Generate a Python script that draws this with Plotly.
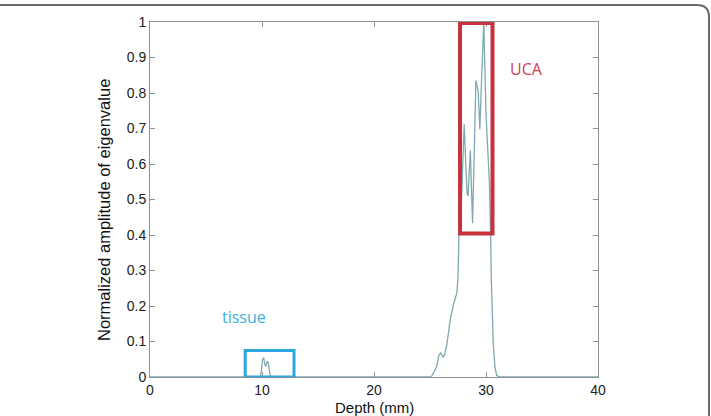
import plotly.graph_objects as go

# Data
depth_mm = [0, 9.85, 9.95, 10.05, 10.15, 10.25, 10.35, 10.45, 10.55, 10.65, 10.75,
            25.1, 25.3, 25.6, 25.8, 25.95, 26.1, 26.2, 26.35, 26.5, 26.8, 27.1, 27.4,
            27.5, 27.6, 27.75, 28.05, 28.3, 28.4, 28.6, 28.8, 29.1, 29.3, 29.45, 29.6,
            29.75, 29.8, 30.0, 30.2, 30.3, 30.42, 30.47, 30.65, 30.8, 30.95, 31.2, 40]
amplitude = [0, 0, 0.02, 0.05, 0.055, 0.035, 0.03, 0.045, 0.04, 0.01, 0,
             0, 0.01, 0.03, 0.062, 0.068, 0.06, 0.055, 0.07, 0.09, 0.16, 0.205, 0.237,
             0.28, 0.42, 0.44, 0.712, 0.52, 0.51, 0.638, 0.433, 0.835, 0.805, 0.698, 0.833,
             0.99, 1.0, 0.74, 0.58, 0.55, 0.40, 0.28, 0.093, 0.028, 0.005, 0, 0]

x_ticks = [0, 10, 20, 30, 40]
y_ticks = [0, 0.1, 0.2, 0.3, 0.4, 0.5, 0.6, 0.7, 0.8, 0.9, 1]
y_tick_text = ["0", "0.1", "0.2", "0.3", "0.4", "0.5", "0.6", "0.7", "0.8", "0.9", "1"]

uca_box = [27.68, 30.58, 0.404, 0.997]
tissue_box = [8.5, 12.86, 0.0, 0.075]

# plot area geometry (pixels)
L, R, T, B = 150, 598, 22, 377
W, H = R - L, B - T


def px(x):
    return (x - L) / W


def py(y):
    return (B - y) / H


fig = go.Figure()
fig.add_trace(go.Scatter(x=depth_mm, y=amplitude, mode="lines",
                         line=dict(color="#80a9b0", width=1.3), showlegend=False))

axis_color = "#8a9494"
fig.update_xaxes(range=[0, 40], tickvals=x_ticks, ticks="inside", ticklen=5,
                 tickcolor=axis_color, showline=True, linecolor=axis_color, linewidth=1,
                 mirror="allticks", showgrid=False, zeroline=False,
                 tickfont=dict(family="Liberation Sans, Arial", size=14, color="#222"))
fig.update_yaxes(range=[0, 1], tickvals=y_ticks, ticktext=y_tick_text, ticks="inside",
                 ticklen=5, tickcolor=axis_color, showline=True, linecolor=axis_color,
                 linewidth=1, mirror="allticks", showgrid=False, zeroline=False,
                 tickfont=dict(family="Liberation Sans, Arial", size=14, color="#222"))

fig.add_shape(type="rect", xref="x", yref="y", x0=uca_box[0], x1=uca_box[1],
              y0=uca_box[2], y1=uca_box[3], line=dict(color="#c8323c", width=4))
fig.add_shape(type="rect", xref="x", yref="y", x0=tissue_box[0], x1=tissue_box[1],
              y0=tissue_box[2], y1=tissue_box[3], line=dict(color="#2ba6de", width=3))

# outer rounded frame (paper coords)
fig.add_shape(type="path", xref="paper", yref="paper",
              path=(f"M {px(-200):.4f} {py(5):.4f} L {px(697):.4f} {py(5):.4f} "
                    f"Q {px(709):.4f} {py(5):.4f} {px(709):.4f} {py(17):.4f} "
                    f"L {px(709):.4f} {py(500):.4f}"),
              line=dict(color="#6a6a6a", width=2))

fig.add_annotation(text="UCA", x=px(526), y=py(69),
                   xref="paper", yref="paper", showarrow=False,
                   xanchor="center", yanchor="middle",
                   font=dict(family="Open Sans", size=16, color="#d0404c"))
fig.add_annotation(text="tissue", x=px(244), y=py(317),
                   xref="paper", yref="paper", showarrow=False,
                   xanchor="center", yanchor="middle",
                   font=dict(family="Open Sans", size=16, color="#3cb0e0"))
fig.add_annotation(text="Normalized amplitude of eigenvalue", textangle=-90,
                   x=px(104), y=py(210), xref="paper", yref="paper",
                   showarrow=False, xanchor="center", yanchor="middle",
                   font=dict(family="Liberation Sans, Arial", size=16.5, color="#111"))
fig.add_annotation(text="Depth (mm)", x=0.5, y=py(407.5), xref="paper",
                   yref="paper", showarrow=False, xanchor="center", yanchor="middle",
                   font=dict(family="Liberation Sans, Arial", size=15, color="#111"))

fig.update_layout(width=711, height=416, autosize=False,
                  margin=dict(l=L, r=711 - R, t=T, b=416 - B),
                  paper_bgcolor="white", plot_bgcolor="white")

fig.write_html("out.html")
